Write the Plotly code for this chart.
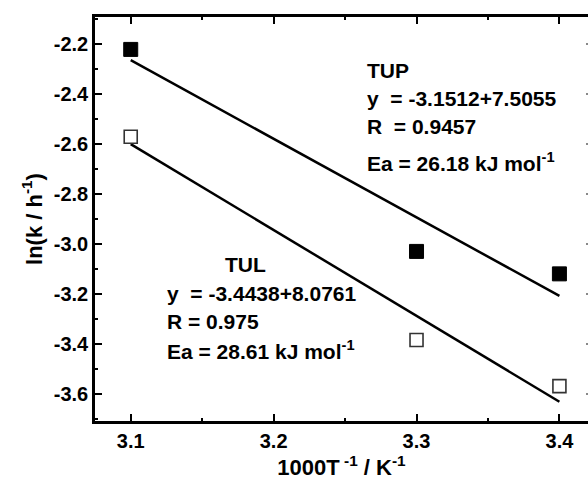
import plotly.graph_objects as go

# Data
x_inv_T = [3.1, 3.3, 3.4]
ln_k_TUP = [-2.22, -3.03, -3.12]
ln_k_TUL = [-2.57, -3.385, -3.57]

# Linear-fit coefficients printed on the chart (y = a + b*x)
tup_slope, tup_intercept = -3.1512, 7.5055
tul_slope, tul_intercept = -3.4438, 8.0761
fit_x = [3.1, 3.4]

x_ticks = [3.1, 3.2, 3.3, 3.4]
x_ticktext = ["3.1", "3.2", "3.3", "3.4"]
y_ticks = [-2.2, -2.4, -2.6, -2.8, -3.0, -3.2, -3.4, -3.6]
y_ticktext = ["-2.2", "-2.4", "-2.6", "-2.8", "-3.0", "-3.2", "-3.4", "-3.6"]

FONT = "Liberation Sans, Arial, sans-serif"


def b(s):
    return "<b>" + s + "</b>"


fig = go.Figure()

fig.add_trace(go.Scatter(
    x=fit_x, y=[tup_intercept + tup_slope * v for v in fit_x],
    mode="lines", line=dict(color="black", width=2.5), showlegend=False))
fig.add_trace(go.Scatter(
    x=fit_x, y=[tul_intercept + tul_slope * v for v in fit_x],
    mode="lines", line=dict(color="black", width=2.5), showlegend=False))

fig.add_trace(go.Scatter(
    x=x_inv_T, y=ln_k_TUP, mode="markers", name="TUP",
    marker=dict(symbol="square", size=14, color="black",
                line=dict(color="black", width=1)), showlegend=False))
fig.add_trace(go.Scatter(
    x=x_inv_T, y=ln_k_TUL, mode="markers", name="TUL",
    marker=dict(symbol="square", size=13, color="white",
                line=dict(color="#333333", width=1.6)), showlegend=False))

# invisible trace to carry right-side tick stubs
fig.add_trace(go.Scatter(x=[x_inv_T[0]], y=[ln_k_TUP[0]], yaxis="y2",
                         mode="markers", marker=dict(opacity=0),
                         hoverinfo="skip", showlegend=False))

ann_font = dict(family=FONT, size=21, color="black")
tup_lines = ["TUP", "y  = -3.1512+7.5055", "R  = 0.9457",
             "Ea = 26.18 kJ mol<sup>-1</sup>"]
tup_y = [-2.306, -2.417, -2.528, -2.671]
for t, yy in zip(tup_lines, tup_y):
    fig.add_annotation(x=3.264, y=yy, text=b(t), showarrow=False,
                       xanchor="left", yanchor="middle", font=ann_font)

tul_lines = ["y  = -3.4438+8.0761", "R = 0.975",
             "Ea = 28.61 kJ mol<sup>-1</sup>"]
tul_y = [-3.197, -3.309, -3.427]
for t, yy in zip(tul_lines, tul_y):
    fig.add_annotation(x=3.124, y=yy, text=b(t), showarrow=False,
                       xanchor="left", yanchor="middle", font=ann_font)
fig.add_annotation(x=3.18, y=-3.082, text=b("TUL"), showarrow=False,
                   xanchor="center", yanchor="middle", font=ann_font)

tick_font = dict(family=FONT, size=20, color="black")
title_font = dict(family=FONT, size=22, color="black")

fig.update_layout(
    width=588, height=481,
    margin=dict(l=95, r=0, t=17, b=60),
    paper_bgcolor="white", plot_bgcolor="white",
    xaxis=dict(
        range=[3.075, 3.42], tickmode="array", tickvals=x_ticks,
        ticktext=[b(t) for t in x_ticktext], ticks="inside", ticklen=7,
        tickwidth=2, tickcolor="black", showline=True, linewidth=2.5,
        linecolor="black", mirror="ticks", showgrid=False, zeroline=False,
        tickfont=tick_font,
        minor=dict(tickmode="linear", tick0=3.05, dtick=0.1, ticks="inside",
                   ticklen=3, tickwidth=2, tickcolor="black", showgrid=False),
        title=dict(text=b("1000T<sup> -1</sup> / K<sup>-1</sup>"),
                   font=title_font, standoff=2),
    ),
    yaxis=dict(
        range=[-3.71, -2.09], tickmode="array", tickvals=y_ticks,
        ticktext=[b(t) for t in y_ticktext], ticks="inside", ticklen=7,
        tickwidth=2, tickcolor="black", showline=True, linewidth=2.5,
        linecolor="black", mirror=False, showgrid=False, zeroline=False,
        tickfont=tick_font,
        minor=dict(tickmode="linear", tick0=-2.3, dtick=0.2, ticks="inside",
                   ticklen=3, tickwidth=2, tickcolor="black", showgrid=False),
        title=dict(text=b("ln(k / h<sup>-1</sup>)"), font=title_font,
                   standoff=6),
    ),
    yaxis2=dict(
        overlaying="y", side="right", matches="y", range=[-3.71, -2.09],
        tickmode="array", tickvals=y_ticks, ticks="inside", ticklen=2,
        tickwidth=2, tickcolor="#888888", showticklabels=False,
        showline=False, showgrid=False, zeroline=False,
    ),
)

fig.write_html("out.html")
